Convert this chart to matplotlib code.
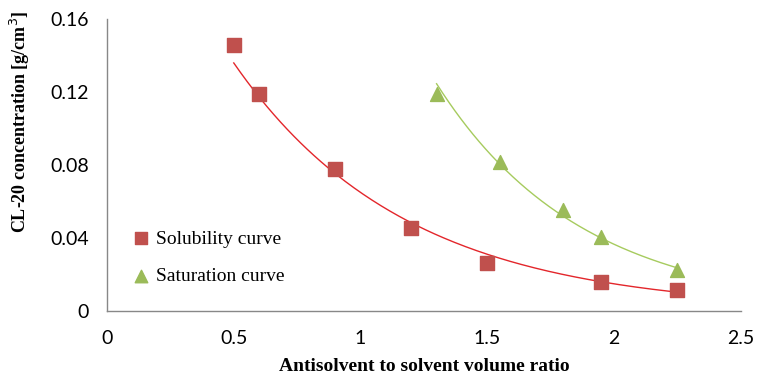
import numpy as np
import matplotlib
matplotlib.use('Agg')
import matplotlib.pyplot as plt

# Data
sol_x = [0.5, 0.6, 0.9, 1.2, 1.5, 1.95, 2.25]
sol_y = [0.146, 0.119, 0.078, 0.0455, 0.026, 0.016, 0.0115]
sat_x = [1.3, 1.55, 1.8, 1.95, 2.25]
sat_y = [0.119, 0.0815, 0.0555, 0.0403, 0.0225]

x_ticks = [0, 0.5, 1, 1.5, 2, 2.5]
x_tick_labels = ['0', '0.5', '1', '1.5', '2', '2.5']
y_ticks = [0, 0.04, 0.08, 0.12, 0.16]
y_tick_labels = ['0', '0.04', '0.08', '0.12', '0.16']

red = '#C0504D'
green = '#9BBB59'

fig = plt.figure(figsize=(7.59, 3.75), dpi=100)
ax = fig.add_axes([0.141, 0.171, 0.835, 0.778])

# exponential trendlines (Excel-style, least squares on log y)
def exp_fit(x, y):
    b, a = np.polyfit(x, np.log(y), 1)
    xs = np.linspace(min(x), max(x), 200)
    return xs, np.exp(a + b * xs)

xs, ys = exp_fit(sol_x, sol_y)
ax.plot(xs, ys, color='#E3262B', lw=1.0, zorder=2)
xs, ys = exp_fit(sat_x, sat_y)
ax.plot(xs, ys, color='#A6CB5E', lw=1.0, zorder=2)

ax.scatter(sol_x, sol_y, marker='s', s=100, color=red, zorder=3, label='Solubility curve')
ax.scatter(sat_x, sat_y, marker='^', s=100, color=green, zorder=3, label='Saturation curve')

ax.set_xlim(0, 2.5)
ax.set_ylim(0, 0.16)
ax.set_xticks(x_ticks)
ax.set_xticklabels(x_tick_labels, fontsize=14, family='Lato')
ax.set_yticks(y_ticks)
ax.set_yticklabels(y_tick_labels, fontsize=14, family='Lato')
ax.tick_params(length=0, pad=13)
ax.tick_params(axis='x', pad=14)

for side in ['top', 'right']:
    ax.spines[side].set_visible(False)
for side in ['left', 'bottom']:
    ax.spines[side].set_color('#888888')
    ax.spines[side].set_linewidth(1.0)

ax.set_xlabel('Antisolvent to solvent volume ratio', fontsize=14, fontweight='bold',
              family='Liberation Serif', labelpad=8)
ax.set_ylabel('CL-20 concentration [g/cm$^3$]', fontsize=13, fontweight='bold',
              family='Liberation Serif')
ax.yaxis.set_label_coords(-0.118, 0.647)

leg = ax.legend(loc='lower left', bbox_to_anchor=(-0.005, 0.03), frameon=False,
                prop={'family': 'Liberation Serif', 'size': 14},
                handletextpad=-0.2, markerscale=0.9, labelspacing=1.0)

fig.savefig('out.png', dpi=100)
